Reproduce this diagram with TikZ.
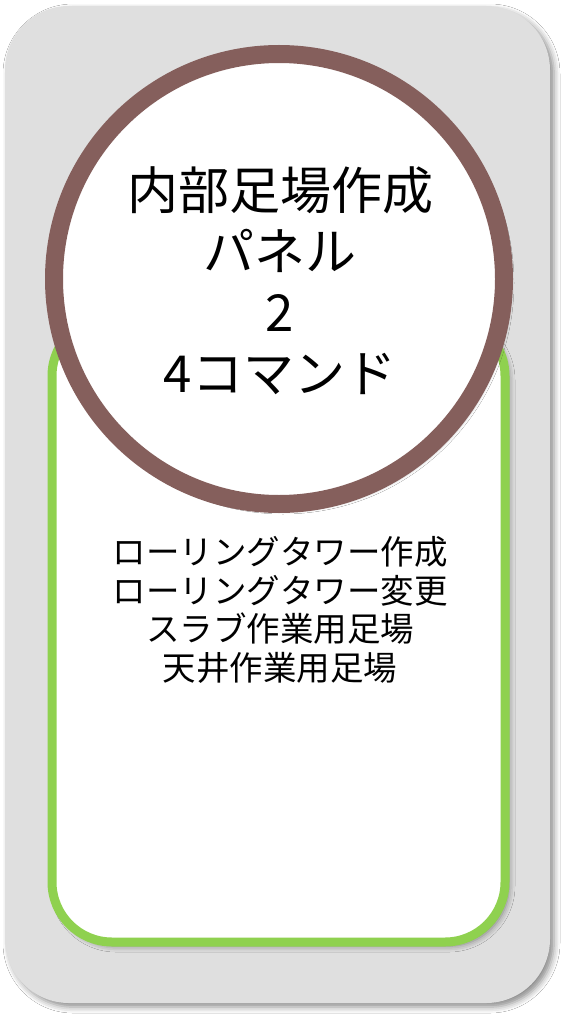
\documentclass[tikz,border=0pt]{standalone}
\usepackage{fontspec}
\setmainfont{Noto Sans CJK JP}
\usetikzlibrary{shadows.blur}
\definecolor{bggray}{HTML}{DFDFDF}
\definecolor{ringbrown}{HTML}{855F5C}
\definecolor{boxgreen}{HTML}{8FD14F}
\tikzset{
  softshadow/.style={blur shadow={shadow xshift=4pt, shadow yshift=-4pt, shadow blur radius=6pt, shadow opacity=45}},
  titletext/.style={align=center, font=\fontsize{51}{61}\selectfont, inner sep=0pt},
  bodytext/.style={align=center, font=\fontsize{33.5}{38.5}\selectfont, inner sep=0pt}
}
\begin{document}
\begin{tikzpicture}[x=1pt,y=-1pt]
\useasboundingbox (0,0) rectangle (570,1024);
\fill[white] (0,0) rectangle (570,1024);
\path[fill=bggray, rounded corners=64pt, softshadow] (5,6) rectangle (550,1003);
\path[draw=boxgreen, line width=9pt, fill=white, rounded corners=60pt, softshadow] (52,316) rectangle (505,942);
\node[circle, draw=ringbrown, line width=18pt, fill=white, minimum size=450pt, inner sep=0pt, softshadow] (ring) at (279,279) {};
\node[titletext] (title) at (280,281) {内部足場作成\\パネル\\2\\4コマンド};
\node[bodytext] (body) at (280,610) {ローリングタワー作成\\ローリングタワー変更\\スラブ作業用足場\\天井作業用足場};
\end{tikzpicture}
\end{document}
